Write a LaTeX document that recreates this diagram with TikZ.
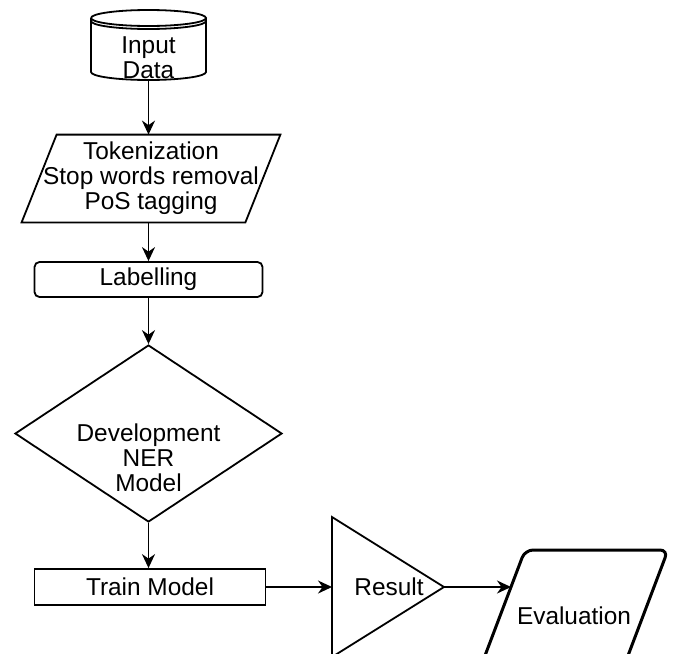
\documentclass[tikz,border=0pt]{standalone}
\usepackage{fontspec}
\setmainfont{Liberation Sans}
\usetikzlibrary{arrows.meta,calc,shapes.geometric}

\begin{document}
\begin{tikzpicture}[
  x=0.5pt, y=-0.5pt,
  every node/.style={font=\fontsize{12.2}{12.5}\selectfont, align=center, inner sep=0pt},
  line/.style={line width=0.9pt},
  box/.style={draw, line width=0.9pt, minimum width=115.5pt, minimum height=18pt},
  arr/.style={line width=0.9pt, -{Stealth[length=7pt,width=6.5pt]}},
]
\useasboundingbox (0,0) rectangle (673,653);
% Input data (cylinder)
\node[minimum width=57.5pt, minimum height=22.5pt] (input) at (148.5,57.5) {Input\\Data};
\draw[line] (91,18) .. controls (91,13.6) and (116.7,10) .. (148.5,10)
  .. controls (180.3,10) and (206,13.6) .. (206,18)
  .. controls (206,22.4) and (180.3,26) .. (148.5,26)
  .. controls (116.7,26) and (91,22.4) .. (91,18);
\draw[line] (91,18) -- (91,72) .. controls (91,76.4) and (116.7,80) .. (148.5,80)
  .. controls (180.3,80) and (206,76.4) .. (206,72) -- (206,18);
\draw[line] (91,21) .. controls (91,25.4) and (116.7,29) .. (148.5,29)
  .. controls (180.3,29) and (206,25.4) .. (206,21);
% Preprocessing (parallelogram)
\node[minimum width=111.5pt, minimum height=43.5pt] (prep) at (151,178.5) {Tokenization\\Stop words removal\\PoS tagging};
\draw[line] ($(prep.north west)+(17.5,0)$) -- ($(prep.north east)+(17.5,0)$)
  -- ($(prep.south east)-(17.5,0)$) -- ($(prep.south west)-(17.5,0)$) -- cycle;
% Labelling
\node[box, rounded corners=2.5pt, minimum width=114pt, minimum height=17.5pt] (label) at (148.5,279.5) {Labelling};
% Development NER model (diamond)
\node[diamond, draw, line, minimum width=133.5pt, minimum height=88.5pt] (dev) at (148.5,433.5) {};
\node (devtxt) at (148.5,458) {Development\\NER\\Model};
% Train model
\node[box] (train) at (150,587) {Train Model};
% Result (triangle)
\coordinate (resin) at (332,587);
\coordinate (resout) at (444,587);
\draw[line] (332,517) -- (resout) -- (332,657) -- cycle;
\node (result) at (389,587) {Result};
% Evaluation
\coordinate (evalin) at (511,587);
\draw[line width=1.5pt, rounded corners=4pt] (525,550) -- (668,550) -- (618,682) -- (475,682) -- cycle;
\node (eval) at (574,616) {Evaluation};
% Arrows
\draw[arr] (input.south) -- (input.south |- prep.north);
\draw[arr] (label.north |- prep.south) -- (label.north);
\draw[arr] (label.south) -- (dev.north);
\draw[arr] (dev.south) -- (dev.south |- train.north);
\draw[arr] (train.east) -- (resin);
\draw[arr] (resout) -- (evalin);
\end{tikzpicture}
\end{document}
